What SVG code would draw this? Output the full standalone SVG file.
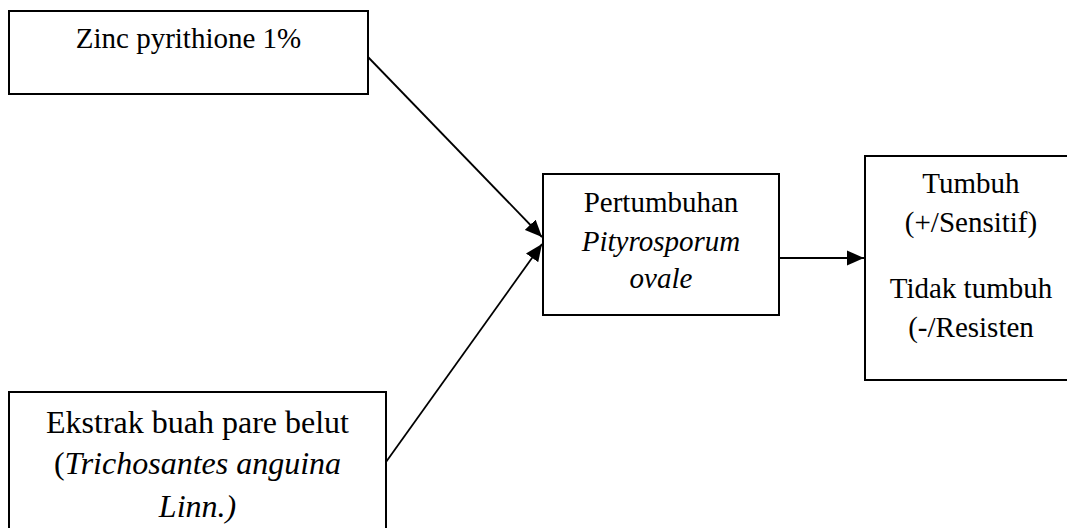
<svg xmlns="http://www.w3.org/2000/svg" width="1067" height="528" viewBox="0 0 1067 528">
<style>
.box{fill:#fff;stroke:#000;stroke-width:2}
.t{font-family:"Liberation Serif","Times New Roman",serif;font-size:29px;fill:#000;text-anchor:middle}
.b{font-size:32px}
.i{font-style:italic}
.c{stroke:#000;stroke-width:1.8;fill:none}
</style>
<defs>
<marker id="ah" markerUnits="userSpaceOnUse" markerWidth="18" markerHeight="16" refX="17" refY="8" orient="auto">
<path d="M0,0.5 L17,8 L0,15.5 Z" fill="#000"/>
</marker>
</defs>
<rect width="1067" height="528" fill="#fff"/>
<g id="connectors">
<line class="c" x1="368" y1="57" x2="542" y2="237" marker-end="url(#ah)"/>
<line class="c" x1="386" y1="462" x2="542" y2="244" marker-end="url(#ah)"/>
<line class="c" x1="779" y1="258" x2="864" y2="258" marker-end="url(#ah)"/>
</g>
<g id="zinc">
<rect class="box" x="9" y="11" width="359" height="83"/>
<text class="t" x="188.5" y="48">Zinc pyrithione 1%</text>
</g>
<g id="ekstrak">
<rect class="box" x="9" y="392" width="377" height="150"/>
<text class="t b" x="197.5" y="433">Ekstrak buah pare belut</text>
<text class="t b" x="197.5" y="474">(<tspan class="i">Trichosantes anguina</tspan></text>
<text class="t b i" x="197.5" y="517">Linn.)</text>
</g>
<g id="pertumbuhan">
<rect class="box" x="543" y="174" width="236" height="141"/>
<text class="t" x="661" y="212">Pertumbuhan</text>
<text class="t i" x="661" y="251">Pityrosporum</text>
<text class="t i" x="661" y="288">ovale</text>
</g>
<g id="hasil">
<rect class="box" x="865" y="156" width="212" height="224"/>
<text class="t" x="971" y="193">Tumbuh</text>
<text class="t" x="971" y="232">(+/Sensitif)</text>
<text class="t" x="971" y="298">Tidak tumbuh</text>
<text class="t" x="971" y="337">(-/Resisten</text>
</g>
</svg>
